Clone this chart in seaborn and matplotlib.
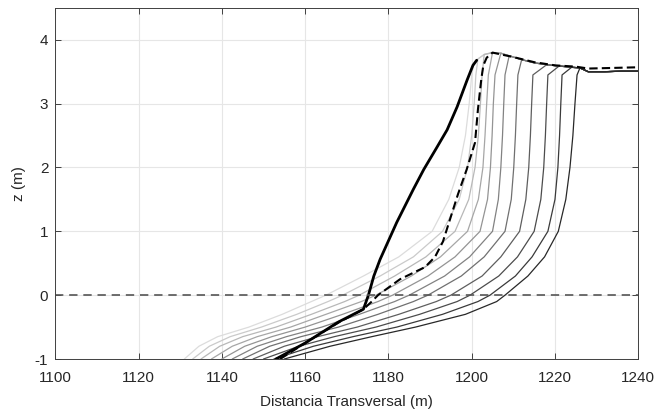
import numpy as np
import pandas as pd
import matplotlib
matplotlib.use("Agg")
from matplotlib import pyplot as plt
import seaborn as sns

# niveles z comunes para los perfiles grises
z_niveles = [-1.0, -0.8, -0.65, -0.5, -0.3, -0.1, 0.0, 0.3, 0.6, 1.0, 1.5, 2.0, 2.5, 3.0, 3.45]

# distancia transversal de cada perfil en esos niveles (claro -> oscuro)
perfil_01 = [1131, 1134.5, 1139, 1146.5, 1154.5, 1161.5, 1165, 1174, 1182.5, 1190.5, 1194.5, 1197, 1198.5, 1199.4, 1200]
perfil_02 = [1133, 1137, 1142, 1149.5, 1158, 1165.5, 1169, 1178, 1186, 1193, 1197, 1199, 1200, 1200.6, 1201]
perfil_03 = [1135, 1139.5, 1145, 1153, 1161.5, 1169.5, 1173, 1181.5, 1189, 1196, 1199.3, 1200.8, 1201.6, 1202.1, 1202.5]
perfil_04 = [1137.5, 1142.5, 1148.5, 1156.5, 1165, 1173.5, 1177, 1185.5, 1192.5, 1199, 1201.6, 1202.7, 1203.2, 1203.6, 1204]
perfil_05 = [1140, 1145.5, 1152, 1160, 1169, 1177.5, 1181, 1189.5, 1196, 1202, 1203.8, 1204.5, 1204.9, 1205.2, 1205.6]
perfil_06 = [1142.5, 1148.5, 1155.5, 1164, 1173, 1181.5, 1185, 1193.5, 1199.5, 1205, 1206.4, 1207, 1207.4, 1207.7, 1208]
perfil_07 = [1145, 1151.5, 1159, 1168, 1177.5, 1186, 1189.5, 1197.5, 1203, 1208, 1209.5, 1210.1, 1210.5, 1210.8, 1211.1]
perfil_08 = [1147.5, 1155, 1163, 1172.5, 1182.5, 1191.5, 1195, 1202.5, 1207, 1211.5, 1213, 1213.7, 1214.1, 1214.4, 1214.7]
perfil_09 = [1150, 1158.5, 1167, 1177, 1187.5, 1196.5, 1199.6, 1206.5, 1211, 1215, 1216.6, 1217.3, 1217.7, 1218, 1218.3]
perfil_10 = [1152.5, 1162, 1171.5, 1182, 1193, 1201.5, 1204.4, 1210.5, 1214.5, 1218.3, 1220, 1220.7, 1221.1, 1221.4, 1221.7]
perfil_11 = [1155, 1166, 1176, 1186.5, 1198.5, 1206, 1208, 1213.5, 1217.5, 1220.8, 1222.6, 1223.6, 1224.3, 1224.8, 1225.3]

# coronacion / berma comun
cresta_x = [1199.5, 1200.5, 1201.5, 1203, 1205, 1207, 1209, 1212, 1215, 1218, 1221, 1224, 1226, 1228, 1232, 1236, 1240]
cresta_z = [3.45, 3.62, 3.70, 3.77, 3.80, 3.79, 3.75, 3.69, 3.64, 3.61, 3.59, 3.57, 3.56, 3.50, 3.50, 3.51, 3.51]

# perfil inicial (linea gruesa)
inicial_x = [1153, 1160, 1168, 1174, 1175.2, 1176.5, 1178, 1182, 1186, 1188.5, 1191.5, 1194.1, 1196.5, 1198.9, 1200.3, 1201.2]
inicial_z = [-1.0, -0.75, -0.42, -0.22, 0.0, 0.3, 0.56, 1.14, 1.66, 1.97, 2.3, 2.59, 2.95, 3.37, 3.6, 3.68]

# perfil discontinuo
disc_x = [1154, 1160, 1168, 1174, 1176, 1177.5, 1182.8, 1188.8, 1191.2, 1193.1, 1194.8, 1196.7, 1198.8, 1200.8,
          1201.5, 1202.3, 1202.8, 1203.6, 1205, 1210, 1215, 1220, 1225, 1228, 1234, 1240]
disc_z = [-1.0, -0.75, -0.43, -0.22, -0.1, 0.0, 0.25, 0.44, 0.6, 0.84, 1.19, 1.58, 1.97, 2.39,
          2.91, 3.38, 3.6, 3.72, 3.80, 3.73, 3.65, 3.60, 3.58, 3.55, 3.56, 3.57]

perfiles = [perfil_01, perfil_02, perfil_03, perfil_04, perfil_05, perfil_06,
            perfil_07, perfil_08, perfil_09, perfil_10, perfil_11]

filas = []
for i, px in enumerate(perfiles):
    for x, z in zip(px, z_niveles):
        filas.append((i, x, z))
    for x, z in zip(cresta_x, cresta_z):
        if x > px[-1] + 0.3:
            filas.append((i, x, z))
df = pd.DataFrame(filas, columns=["perfil", "x", "z"])

grises = ['#dcdcdc', '#cacaca', '#b8b8b8', '#a6a6a6', '#949494', '#828282',
          '#707070', '#5e5e5e', '#4c4c4c', '#3a3a3a', '#282828']

sns.set_style("ticks")
plt.rcParams['font.family'] = ['Liberation Sans', 'DejaVu Sans']
plt.rcParams['axes.unicode_minus'] = False

fig = plt.figure(figsize=(6.58, 4.16), dpi=100)
ax = fig.add_axes([0.084, 0.137, 0.886, 0.844])

sns.lineplot(data=df, x="x", y="z", hue="perfil", palette=grises, sort=False,
             estimator=None, legend=False, linewidth=0.9, ax=ax)
sns.lineplot(x=inicial_x, y=inicial_z, sort=False, estimator=None, color="black",
             linewidth=2.0, ax=ax)
sns.lineplot(x=disc_x, y=disc_z, sort=False, estimator=None, color="black",
             linewidth=1.5, linestyle=(0, (4, 2)), ax=ax)
ax.axhline(0, color="#555555", linewidth=1.2, linestyle=(0, (5, 3.5)))

ax.set_xlim(1100, 1240)
ax.set_ylim(-1, 4.5)
ax.set_xticks(np.arange(1100, 1241, 20))
ax.set_yticks(np.arange(-1, 5, 1))
ax.grid(True, color="#e6e6e6", linewidth=0.8)
ax.set_axisbelow(True)
ax.tick_params(direction="in", top=True, right=True, length=4, width=0.6,
               labelsize=11, colors="#262626")
ax.tick_params(axis="x", pad=8.5)
ax.tick_params(axis="y", pad=5)
for s in ax.spines.values():
    s.set_visible(True)
    s.set_color("#404040")
    s.set_linewidth(0.7)

ax.set_xlabel("Distancia Transversal (m)", fontsize=11, color="#262626", labelpad=7)
ax.set_ylabel("z (m)", fontsize=11, color="#262626", labelpad=6)

fig.savefig("out.png", dpi=100)
